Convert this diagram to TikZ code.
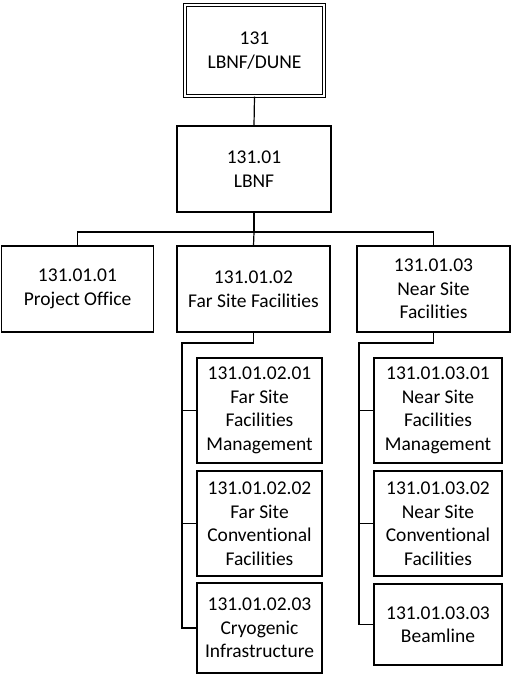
\documentclass[tikz,border=0pt]{standalone}
\usepackage{fontspec}
\setmainfont[Ligatures=NoCommon]{Carlito}
\begin{document}
\begin{tikzpicture}[x=1pt,y=-1pt,
  box/.style={draw, line width=1.1pt, align=center, inner sep=0pt,
    font=\fontsize{19.5}{23.5}\selectfont},
  conn/.style={line width=1.2pt}]
\useasboundingbox (0,0) rectangle (511,674);
\node[box, double, double distance=2.4pt, minimum width=139pt, minimum height=91pt] (top) at (254.5,50.5) {131\\LBNF/DUNE};
\node[box, minimum width=154pt, minimum height=86pt] (lbnf) at (254,169) {131.01\\LBNF};
\node[box, minimum width=152pt, minimum height=86pt] (po) at (77.5,289) {131.01.01\\Project Office};
\node[box, minimum width=153pt, minimum height=86pt] (fsf) at (253.5,289) {131.01.02\\Far Site Facilities};
\node[box, minimum width=153pt, minimum height=86pt] (nsf) at (433.5,289) {131.01.03\\Near Site\\Facilities};
\node[box, minimum width=125pt, minimum height=105pt] (fa) at (259.5,410.5) {131.01.02.01\\Far Site\\Facilities\\Management};
\node[box, minimum width=125pt, minimum height=105pt] (fb) at (259.5,523.5) {131.01.02.02\\Far Site\\Conventional\\Facilities};
\node[box, minimum width=125pt, minimum height=90pt] (fc) at (259.5,628) {131.01.02.03\\Cryogenic\\Infrastructure};
\node[box, minimum width=128pt, minimum height=105pt] (na) at (438,410.5) {131.01.03.01\\Near Site\\Facilities\\Management};
\node[box, minimum width=128pt, minimum height=105pt] (nb) at (438,523.5) {131.01.03.02\\Near Site\\Conventional\\Facilities};
\node[box, minimum width=128pt, minimum height=81pt] (nc) at (438,624.5) {131.01.03.03\\Beamline};
\coordinate (bus) at (254,232);
\coordinate (fbend) at (182,343);
\coordinate (nbend) at (359,343);
\draw[conn] (top.south) -- (lbnf.north);
\draw[conn] (lbnf.south) -- (bus);
\draw[conn] (po.north) |- (bus) -| (nsf.north);
\draw[conn] (bus) -- (fsf.north);
\draw[conn] (fsf.south) |- (fbend) |- (fc.west);
\draw[conn] (fa.west) -- (fa.west -| fbend);
\draw[conn] (fb.west) -- (fb.west -| fbend);
\draw[conn] (nsf.south) |- (nbend) |- (nc.west);
\draw[conn] (na.west) -- (na.west -| nbend);
\draw[conn] (nb.west) -- (nb.west -| nbend);
\end{tikzpicture}
\end{document}
